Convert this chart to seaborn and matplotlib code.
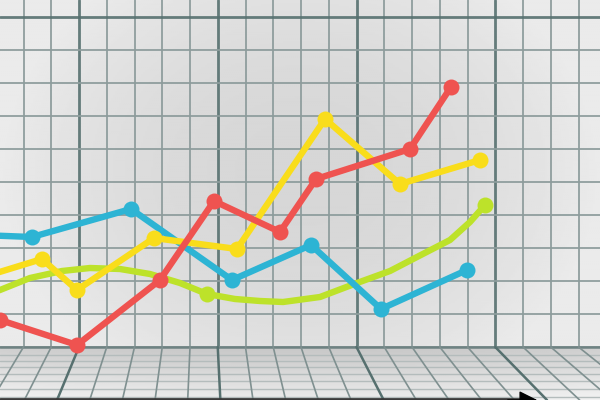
import numpy as np
import matplotlib
matplotlib.use('Agg')
import matplotlib.pyplot as plt
import seaborn as sns

# Values (x in chart units, y = height above the bottom edge)
red_x = [0, 77, 160, 214, 280, 316, 410, 451]
red_y = [80, 55, 120, 199, 168, 221, 251, 313]

yellow_x = [-20, 42, 77, 154, 237, 325, 400, 480]
yellow_y = [122, 141, 110, 162, 151, 281, 216, 240]

blue_x = [-20, 32, 131, 232, 311, 381, 467]
blue_y = [165, 163, 191, 120, 155, 91, 130]

green_x = [-10, 0, 30, 62, 90, 120, 150, 180, 207, 235, 260, 283, 320, 357,
           390, 417, 450, 470, 485]
green_y = [107, 110, 122, 129, 132, 131, 126, 117, 106, 101, 99, 98, 103, 117,
           129, 143, 160, 178, 195]
green_marker_x = [207, 485]
green_marker_y = [106, 195]

colors = {'red': '#ef5350', 'yellow': '#f9dd1b', 'blue': '#2db4d4', 'green': '#bde22a'}

sns.set_style('white')
fig = plt.figure(figsize=(6, 4), dpi=100)
ax = fig.add_axes([0, 0, 1, 1])
ax.set_xlim(0, 600)
ax.set_ylim(0, 400)
ax.axis('off')

wall_bottom = 53

# soft lit background: lighter at the edges, grey in the middle
gx, gy = np.meshgrid(np.linspace(-1, 1, 300), np.linspace(-1, 1, 200))
shade = 0.84 + 0.08 * np.clip(gx ** 2 + 0.5 * gy ** 2, 0, 1)
ax.imshow(shade, extent=(0, 600, wall_bottom, 400), cmap='gray', vmin=0, vmax=1,
          aspect='auto', zorder=0)
fy = np.linspace(0, 1, 60)[:, None] * np.ones((1, 300))
floor = 0.78 + 0.14 * fy + 0.03 * np.clip(gx[:60] ** 2, 0, 1)
ax.imshow(floor, extent=(0, 600, 0, wall_bottom), cmap='gray', vmin=0, vmax=1,
          aspect='auto', zorder=0)

# wall grid
cell_w = 27.75
thin_c, thick_c = '#8d9c9c', '#56706f'
for k in range(-3, 19):
    x = 79 + cell_w * k
    thick = k % 5 == 0
    ax.plot([x, x], [wall_bottom, 400], color=thick_c if thick else thin_c,
            lw=2.0 if thick else 1.4, alpha=0.9, zorder=1)
for k in range(11):
    y = 383 - 33 * k
    thick = k == 0
    ax.plot([0, 600], [y, y], color=thick_c if thick else thin_c,
            lw=2.0 if thick else 1.4, alpha=0.9, zorder=1)
ax.plot([0, 600], [wall_bottom, wall_bottom], color='#6e8282', lw=1.8, zorder=1)

# floor grid in perspective
for y in [45, 39, 33, 26, 19, 11, 3]:
    ax.plot([0, 600], [y, y], color='#b4bcbc', lw=1.0, zorder=1)
for k in range(-3, 19):
    x = 79 + cell_w * k
    thick = k % 5 == 0
    x_end = x + 0.177 * (x - 203)
    ax.plot([x, x_end], [wall_bottom, 0], color=thick_c if thick else '#7f9090',
            lw=1.8 if thick else 1.2, zorder=1)

# bottom axis with arrow
ax.plot([0, 520], [0.8, 0.8], color='#3a3a3a', lw=2, zorder=2)
ax.annotate('', xy=(540, 0), xytext=(505, 0),
            arrowprops=dict(arrowstyle='-|>', color='black', lw=1,
                            mutation_scale=28), zorder=2)

lw = 4.6
ms = 11.5

# green smooth line with two dots
sns.lineplot(x=green_x, y=green_y, color=colors['green'], lw=lw, ax=ax,
             sort=False, zorder=3, solid_joinstyle='round', solid_capstyle='round')
sns.scatterplot(x=green_marker_x, y=green_marker_y, color=colors['green'],
                s=ms ** 2, linewidth=0, ax=ax, zorder=3)

for xs, ys, c in [(blue_x, blue_y, colors['blue']),
                  (yellow_x, yellow_y, colors['yellow']),
                  (red_x, red_y, colors['red'])]:
    sns.lineplot(x=xs, y=ys, color=c, lw=lw, marker='o', markersize=ms,
                 markeredgewidth=0, ax=ax, sort=False, zorder=4,
                 solid_joinstyle='round')

ax.set_xlim(0, 600)
ax.set_ylim(0, 400)
fig.savefig('out.png', dpi=100)
